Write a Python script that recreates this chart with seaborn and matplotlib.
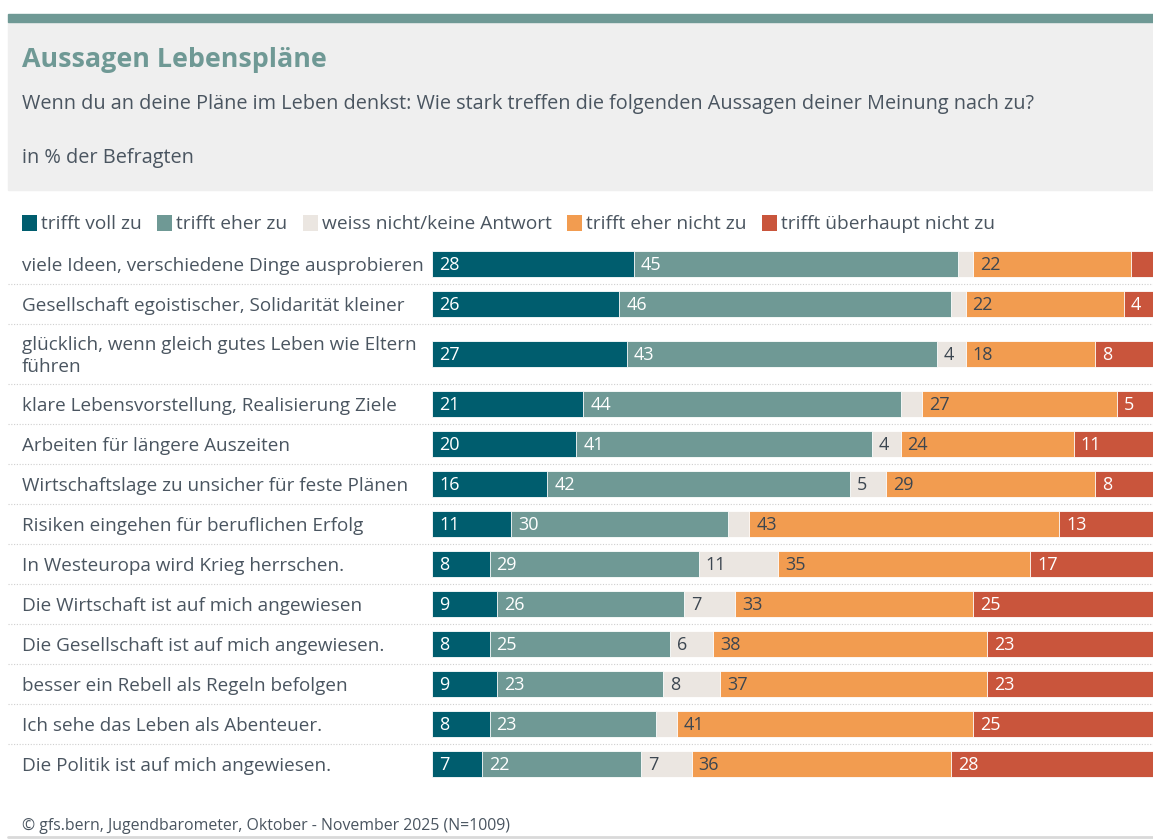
import numpy as np
import pandas as pd
import seaborn as sns
import matplotlib.pyplot as plt
from matplotlib.patches import Patch, Rectangle
from matplotlib.lines import Line2D
import matplotlib.transforms as mtransforms

# data (in % of respondents)
statements = [
    "viele Ideen, verschiedene Dinge ausprobieren",
    "Gesellschaft egoistischer, Solidarität kleiner",
    "glücklich, wenn gleich gutes Leben wie Eltern\nführen",
    "klare Lebensvorstellung, Realisierung Ziele",
    "Arbeiten für längere Auszeiten",
    "Wirtschaftslage zu unsicher für feste Plänen",
    "Risiken eingehen für beruflichen Erfolg",
    "In Westeuropa wird Krieg herrschen.",
    "Die Wirtschaft ist auf mich angewiesen",
    "Die Gesellschaft ist auf mich angewiesen.",
    "besser ein Rebell als Regeln befolgen",
    "Ich sehe das Leben als Abenteuer.",
    "Die Politik ist auf mich angewiesen.",
]
answers = ["trifft voll zu", "trifft eher zu", "weiss nicht/keine Antwort",
           "trifft eher nicht zu", "trifft überhaupt nicht zu"]

voll_zu = [28, 26, 27, 21, 20, 16, 11, 8, 9, 8, 9, 8, 7]
eher_zu = [45, 46, 43, 44, 41, 42, 30, 29, 26, 25, 23, 23, 22]
weiss_nicht = [2, 2, 4, 3, 4, 5, 3, 11, 7, 6, 8, 3, 7]
eher_nicht = [22, 22, 18, 27, 24, 29, 43, 35, 33, 38, 37, 41, 36]
gar_nicht = [3, 4, 8, 5, 11, 8, 13, 17, 25, 23, 23, 25, 28]

colors = ["#005d6e", "#6f9995", "#ebe6e1", "#f29c50", "#c9553c"]
label_colors = ["white", "white", "#3c4650", "#3c4650", "white"]
text_col = "#4a5560"

df = pd.DataFrame({"statement": statements, answers[0]: voll_zu, answers[1]: eher_zu,
                   answers[2]: weiss_nicht, answers[3]: eher_nicht, answers[4]: gar_nicht})

# row positions: two-line labels get a bit more room
lines = [s.count("\n") + 1 for s in statements]
half = [0.5 + 0.25 * (n - 1) for n in lines]
pos = [0.0]
for i in range(1, len(statements)):
    pos.append(pos[-1] + half[i - 1] + half[i])
df["pos"] = pos

sns.set_theme(style="white")
plt.rcParams["font.family"] = ["Open Sans", "DejaVu Sans"]

W, H = 1153, 840
fig = plt.figure(figsize=(W / 100, H / 100), dpi=100)
# small downward nudge so text centres line up with the bars
nudge = mtransforms.ScaledTranslation(0, -2 / 100, fig.dpi_scale_trans)

# header
fig.patches.append(Rectangle((8 / W, 1 - 190 / H), 1 - 8 / W, 168 / H, transform=fig.transFigure,
                             color="#efefef", zorder=0))
fig.patches.append(Rectangle((8 / W, 1 - 22 / H), 1 - 8 / W, 8 / H, transform=fig.transFigure,
                             color="#6f9995", zorder=0))
fig.text(22 / W, 1 - 60 / H, "Aussagen Lebenspläne", fontsize=19.4, fontweight="bold",
         color="#6f9995", va="center")
fig.text(22 / W, 1 - 104 / H, "Wenn du an deine Pläne im Leben denkst: Wie stark treffen die folgenden "
         "Aussagen deiner Meinung nach zu?", fontsize=14.3, color=text_col, va="center")
fig.text(22 / W, 1 - 158 / H, "in % der Befragten", fontsize=14.3, color=text_col, va="center")

# legend
handles = [Patch(facecolor=c, edgecolor="none") for c in colors]
fig.legend(handles, answers, loc="center left", bbox_to_anchor=(14 / W, 1 - 224 / H), ncol=5,
           frameon=False, fontsize=13.8, handlelength=0.8, handleheight=0.9, handletextpad=0.2,
           columnspacing=0.8, labelcolor=text_col, borderaxespad=0)

# bars
ax_top, ax_bot = 244, 784
ax = fig.add_axes([432 / W, 1 - ax_bot / H, 1 - 432 / W, (ax_bot - ax_top) / H])
cum = df[answers].cumsum(axis=1)
for k in reversed(range(len(answers))):
    sns.barplot(x=cum[answers[k]], y=df["pos"], orient="y", native_scale=True, color=colors[k],
                saturation=1, width=0.65, edgecolor="white", linewidth=0.6, ax=ax)

for i, row in df.iterrows():
    left = 0
    for k, a in enumerate(answers):
        v = row[a]
        if v >= 4:
            ax.annotate(str(v), (left, row["pos"]), xytext=(5, -1), textcoords="offset points",
                        va="center", ha="left", fontsize=13, color=label_colors[k])
        left += v

ax.set_xlim(0, 100)
ax.set_ylim(pos[-1] + half[-1], -0.5)
ax.axis("off")

# row labels and dotted separators
trans = mtransforms.blended_transform_factory(fig.transFigure, ax.transData)
for i, s in enumerate(statements):
    ax.text(22 / W, pos[i], s, transform=trans + nudge, ha="left", va="center", fontsize=13.6,
            color=text_col, linespacing=1.35)
    if i < len(statements) - 1:
        ax.add_line(Line2D([8 / W, 1], [pos[i] + half[i]] * 2, transform=trans, color="#cfcfcf",
                           linewidth=0.8, linestyle=(0, (1, 1.5)), clip_on=False))

# footer
fig.text(22 / W, 1 - 826 / H, "© gfs.bern, Jugendbarometer, Oktober - November 2025 (N=1009)",
         fontsize=11.4, color=text_col, va="center")
fig.add_artist(Line2D([8 / W, 1], [1 - 837 / H] * 2, transform=fig.transFigure, color="#d9d9d9",
                      linewidth=2))

fig.savefig("out.png", dpi=100)
